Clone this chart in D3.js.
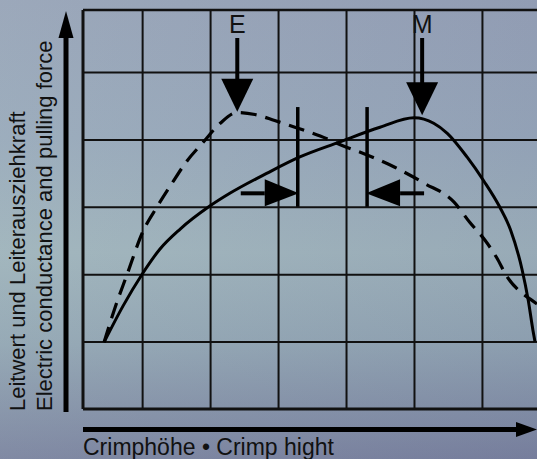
<!DOCTYPE html>
<html>
<head>
<meta charset="utf-8">
<script src="https://cdn.jsdelivr.net/npm/d3@7"></script>
<style>
  html, body { margin: 0; padding: 0; overflow: hidden; }
  svg { display: block; }
</style>
</head>
<body>
<svg id="chart"></svg>
<script>
// grid positions (crimp height units / relative value units)
const xGrid = [1, 2, 3, 4, 5, 6];
const yGrid = [1, 2, 3, 4, 5];

// solid curve: pulling force (peak M)
const forceX = [0.44, 0.72, 1.0, 1.26, 1.56, 1.98, 2.29, 2.84, 3.32, 3.90, 4.50, 5.0, 5.29, 5.49, 5.78, 6.03, 6.26, 6.42, 6.59, 6.68, 6.75, 6.78];
const forceY = [0.99, 1.53, 2.0, 2.37, 2.67, 3.0, 3.20, 3.50, 3.74, 3.96, 4.18, 4.32, 4.24, 4.09, 3.74, 3.38, 3.0, 2.66, 2.07, 1.62, 1.17, 1.0];

// dashed curve: electric conductance (peak E)
const conductX = [0.44, 0.60, 0.78, 1.01, 1.22, 1.44, 1.66, 1.90, 2.15, 2.40, 2.66, 2.95, 3.28, 3.62, 3.97, 4.31, 4.71, 5.15, 5.59, 5.82, 6.04, 6.22, 6.37, 6.53, 6.71, 6.81];
const conductY = [0.99, 1.50, 2.00, 2.63, 3.00, 3.35, 3.68, 3.96, 4.24, 4.40, 4.37, 4.28, 4.17, 4.05, 3.90, 3.77, 3.59, 3.35, 3.07, 2.77, 2.51, 2.24, 1.96, 1.77, 1.63, 1.56];

// annotations
const peakLabels = ["E", "M"];
const peakX = [2.40, 5.12];
const peakTipY = [4.41, 4.36];
const toleranceX = [3.29, 4.31];

const xLabel = "Crimphöhe • Crimp hight";
const yLabels = ["Leitwert und Leiterausziehkraft", "Electric conductance and pulling force"];

class CrimpChart {
    constructor(config) {
        this.config = {
            parent: config.parent,
            width: config.width || 537,
            height: config.height || 459
        };
        this.init();
    }

    init() {
        let self = this;
        self.svg = d3.select(self.config.parent)
            .attr('width', self.config.width)
            .attr('height', self.config.height)
            .style('font-family', '"Liberation Sans", Arial, sans-serif');

        const defs = self.svg.append('defs');
        const grad = defs.append('linearGradient')
            .attr('id', 'bg').attr('x1', 0).attr('y1', 0).attr('x2', 0).attr('y2', 1);
        [['0', '#98a4b8'], ['0.3', '#99aabb'], ['0.55', '#a0b5bc'], ['0.75', '#92a6b3'], ['1', '#78809d']]
            .forEach(s => grad.append('stop').attr('offset', s[0]).attr('stop-color', s[1]));
        const grad2 = defs.append('linearGradient')
            .attr('id', 'bg2').attr('x1', 0).attr('y1', 0).attr('x2', 1).attr('y2', 0);
        grad2.append('stop').attr('offset', 0).attr('stop-color', '#b0c0c8').attr('stop-opacity', 0.15);
        grad2.append('stop').attr('offset', 1).attr('stop-color', '#6a6f98').attr('stop-opacity', 0.15);

        self.svg.append('rect').attr('width', self.config.width).attr('height', self.config.height).attr('fill', 'url(#bg)');
        self.svg.append('rect').attr('width', self.config.width).attr('height', self.config.height).attr('fill', 'url(#bg2)');

        self.xscale = d3.scaleLinear().domain([0.13, 6.81]).range([83, 537]);
        self.yscale = d3.scaleLinear().domain([0, 5.92]).range([409, 10]);

        defs.append('clipPath').attr('id', 'plotclip')
            .append('rect')
            .attr('x', self.xscale(0.13)).attr('y', self.yscale(5.92))
            .attr('width', self.xscale(6.81) - self.xscale(0.13))
            .attr('height', self.yscale(0) - self.yscale(5.92));
    }

    render() {
        let self = this;
        const x = self.xscale, y = self.yscale;
        const [x0, x1] = x.range();
        const [yb, yt] = y.range();

        // grid lines from axes
        const xgrid = d3.axisBottom(x).tickValues(xGrid).tickSize(-(yb - yt)).tickFormat('');
        const ygrid = d3.axisLeft(y).tickValues(yGrid).tickSize(-(x1 - x0)).tickFormat('');
        const gx = self.svg.append('g').attr('transform', `translate(0,${yb})`).call(xgrid);
        const gy = self.svg.append('g').attr('transform', `translate(${x0},0)`).call(ygrid);
        [gx, gy].forEach(g => {
            g.select('.domain').remove();
            g.selectAll('line').attr('stroke', '#111').attr('stroke-width', 2);
        });

        // frame
        const frame = self.svg.append('g').attr('stroke', '#111').attr('fill', 'none');
        frame.append('line').attr('x1', x0).attr('x2', x1).attr('y1', yt).attr('y2', yt).attr('stroke-width', 2.5);
        frame.append('line').attr('x1', x0).attr('x2', x1).attr('y1', yb).attr('y2', yb).attr('stroke-width', 3);
        frame.append('line').attr('x1', x0).attr('x2', x0).attr('y1', yt).attr('y2', yb).attr('stroke-width', 3);

        // curves
        const line = d3.line().x(d => x(d[0])).y(d => y(d[1])).curve(d3.curveMonotoneX);
        const plot = self.svg.append('g').attr('clip-path', 'url(#plotclip)');
        plot.append('path')
            .datum(forceX.map((v, i) => [v, forceY[i]]))
            .attr('d', line)
            .attr('fill', 'none').attr('stroke', '#000').attr('stroke-width', 3);
        plot.append('path')
            .datum(conductX.map((v, i) => [v, conductY[i]]))
            .attr('d', line)
            .attr('fill', 'none').attr('stroke', '#000').attr('stroke-width', 3.2)
            .attr('stroke-dasharray', '16,9');

        // E / M arrows
        const ann = self.svg.append('g');
        peakLabels.forEach((lab, i) => {
            const px = x(peakX[i]);
            const tip = y(peakTipY[i]);
            ann.append('text').text(lab)
                .attr('x', px).attr('y', yt + 23)
                .attr('text-anchor', 'middle')
                .attr('font-size', 25).attr('fill', '#111');
            ann.append('line')
                .attr('x1', px).attr('x2', px).attr('y1', yt + 28).attr('y2', tip - 30)
                .attr('stroke', '#000').attr('stroke-width', 4);
            ann.append('path')
                .attr('d', `M${px - 16},${tip - 33}L${px + 16},${tip - 33}L${px},${tip}Z`)
                .attr('fill', '#000');
        });

        // tolerance markers with arrows
        const mTop = y(4.48), mBot = y(3.0), ay = y(3.2);
        toleranceX.forEach((tx, i) => {
            const px = x(tx);
            ann.append('line')
                .attr('x1', px).attr('x2', px).attr('y1', mTop).attr('y2', mBot)
                .attr('stroke', '#000').attr('stroke-width', 3.5);
            const dir = i === 0 ? -1 : 1;
            const base = px + dir * 33;
            ann.append('line')
                .attr('x1', base).attr('x2', base + dir * 24).attr('y1', ay).attr('y2', ay)
                .attr('stroke', '#000').attr('stroke-width', 4);
            ann.append('path')
                .attr('d', `M${base},${ay - 14}L${base},${ay + 13}L${px - dir * 1},${ay}Z`)
                .attr('fill', '#000');
        });

        // axis arrows
        const axisG = self.svg.append('g');
        axisG.append('line').attr('x1', 66).attr('x2', 66).attr('y1', 412).attr('y2', 34)
            .attr('stroke', '#000').attr('stroke-width', 5);
        axisG.append('path').attr('d', 'M58.5,38L73.5,38L66,11Z').attr('fill', '#000');
        axisG.append('line').attr('x1', x0).attr('x2', 520).attr('y1', 429.5).attr('y2', 429.5)
            .attr('stroke', '#000').attr('stroke-width', 5);
        axisG.append('path').attr('d', 'M516,422L516,437L537,429.5Z').attr('fill', '#000');

        // texts
        self.svg.append('text').text(xLabel)
            .attr('x', x0).attr('y', 455)
            .attr('font-size', 23).attr('fill', '#111');
        yLabels.forEach((t, i) => {
            self.svg.append('text').text(t)
                .attr('transform', `translate(${25 + i * 27},411) rotate(-90)`)
                .attr('font-size', 22).attr('fill', '#111');
        });
    }
}

const chart = new CrimpChart({ parent: '#chart', width: 537, height: 459 });
chart.render();
</script>
</body>
</html>
